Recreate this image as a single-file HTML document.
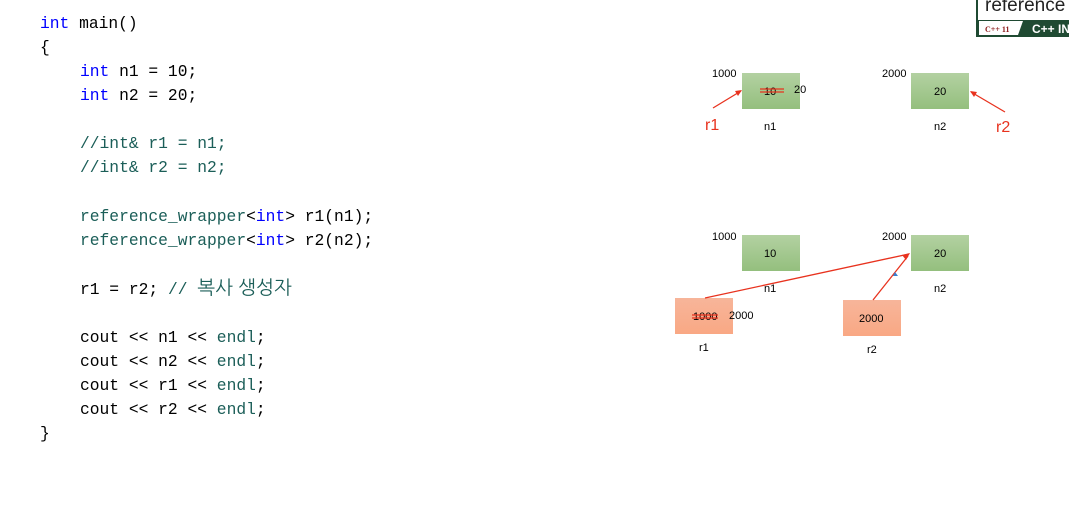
<!DOCTYPE html>
<html><head><meta charset="utf-8"><style>
html,body{margin:0;padding:0;background:#fff;width:1069px;height:526px;overflow:hidden}
svg{display:block}
.code{font-family:"Liberation Mono","NanumGothic",monospace;font-size:16.3px}
.k{fill:#0000ff}.t{fill:#1b5e58}
.s{font-family:"Liberation Sans",sans-serif;font-size:11px;fill:#000}
</style></head><body>
<svg width="1069" height="526">
<g class="code">
<text x="40" y="28"><tspan class="k">int</tspan> main()</text>
<text x="40" y="52">{</text>
<text x="80" y="76"><tspan class="k">int</tspan> n1 = 10;</text>
<text x="80" y="100"><tspan class="k">int</tspan> n2 = 20;</text>
<text x="80" y="148" class="t">//int&amp; r1 = n1;</text>
<text x="80" y="172" class="t">//int&amp; r2 = n2;</text>
<text x="80" y="221"><tspan class="t">reference_wrapper</tspan>&lt;<tspan class="k">int</tspan>&gt; r1(n1);</text>
<text x="80" y="245"><tspan class="t">reference_wrapper</tspan>&lt;<tspan class="k">int</tspan>&gt; r2(n2);</text>
<text x="80" y="294">r1 = r2; <tspan class="t">// </tspan><tspan class="t" font-family="NanumGothic, sans-serif" font-size="19">복사 생성자</tspan></text>
<text x="80" y="342">cout &lt;&lt; n1 &lt;&lt; <tspan class="t">endl</tspan>;</text>
<text x="80" y="366">cout &lt;&lt; n2 &lt;&lt; <tspan class="t">endl</tspan>;</text>
<text x="80" y="390">cout &lt;&lt; r1 &lt;&lt; <tspan class="t">endl</tspan>;</text>
<text x="80" y="414">cout &lt;&lt; r2 &lt;&lt; <tspan class="t">endl</tspan>;</text>
<text x="40" y="438">}</text>
</g>
<defs>
<linearGradient id="gg" x1="0" y1="0" x2="0" y2="1"><stop offset="0" stop-color="#b3d1a2"/><stop offset="1" stop-color="#94bf7e"/></linearGradient>
<linearGradient id="og" x1="0" y1="0" x2="0" y2="1"><stop offset="0" stop-color="#f7b59a"/><stop offset="1" stop-color="#f9a884"/></linearGradient>
</defs>
<g>
<rect x="977" y="-2" width="94" height="38" fill="#fff" stroke="#1f4a32" stroke-width="2"/>
<text x="985" y="11" font-family="Liberation Sans,sans-serif" font-size="19" fill="#222">reference</text>
<polygon points="978,20 1069,20 1069,36 978,36" fill="#1f4a32"/>
<polygon points="979,21 1023,21 1018,35 979,35" fill="#fff"/>
<text x="985" y="32" font-family="Liberation Serif,serif" font-size="8" font-weight="bold" fill="#8b1a1a">C++ 11</text>
<text x="1032" y="33" font-family="Liberation Sans,sans-serif" font-size="12" font-weight="bold" fill="#fff">C++ IN</text>
</g>
<g>
<rect x="742" y="73" width="58" height="36" fill="url(#gg)"/>
<text class="s" x="712" y="77">1000</text>
<text class="s" x="764" y="95">10</text>
<line x1="760" y1="89" x2="784" y2="89" stroke="#e8321e" stroke-width="1.2"/>
<line x1="760" y1="92" x2="784" y2="92" stroke="#e8321e" stroke-width="1.2"/>
<text class="s" x="794" y="93">20</text>
<text class="s" x="764" y="130">n1</text>
<rect x="911" y="73" width="58" height="36" fill="url(#gg)"/>
<text class="s" x="882" y="77">2000</text>
<text class="s" x="934" y="95">20</text>
<text class="s" x="934" y="130">n2</text>
<line x1="713" y1="108" x2="741" y2="91" stroke="#e8321e" stroke-width="1.3"/>
<polygon points="742,90 735,91 738,96" fill="#e8321e"/>
<text x="705" y="130" font-family="Liberation Sans,sans-serif" font-size="16" fill="#e8321e">r1</text>
<line x1="1005" y1="112" x2="971" y2="92" stroke="#e8321e" stroke-width="1.3"/>
<polygon points="970,91 974,97 977,92" fill="#e8321e"/>
<text x="996" y="132" font-family="Liberation Sans,sans-serif" font-size="16" fill="#e8321e">r2</text>
</g>
<g>
<rect x="742" y="235" width="58" height="36" fill="url(#gg)"/>
<text class="s" x="712" y="240">1000</text>
<text class="s" x="764" y="257">10</text>
<text class="s" x="764" y="292">n1</text>
<rect x="911" y="235" width="58" height="36" fill="url(#gg)"/>
<text class="s" x="882" y="240">2000</text>
<text class="s" x="934" y="257">20</text>
<text class="s" x="934" y="292">n2</text>
<rect x="675" y="298" width="58" height="36" fill="url(#og)"/>
<text class="s" x="693" y="320">1000</text>
<line x1="692" y1="315" x2="718" y2="315" stroke="#e8321e" stroke-width="1.2"/>
<line x1="692" y1="318" x2="718" y2="318" stroke="#e8321e" stroke-width="1.2"/>
<text class="s" x="729" y="319">2000</text>
<text class="s" x="699" y="351">r1</text>
<rect x="843" y="300" width="58" height="36" fill="url(#og)"/>
<text class="s" x="859" y="322">2000</text>
<text class="s" x="867" y="353">r2</text>
<line x1="705" y1="298" x2="909" y2="254" stroke="#e8321e" stroke-width="1.3"/>
<line x1="873" y1="300" x2="908" y2="256" stroke="#e8321e" stroke-width="1.3"/>
<polygon points="910,253 902,255 906,260" fill="#e8321e"/>
<polygon points="895,272 898,276 893,276" fill="#3a7fd0"/>
</g>
</svg>
</body></html>
